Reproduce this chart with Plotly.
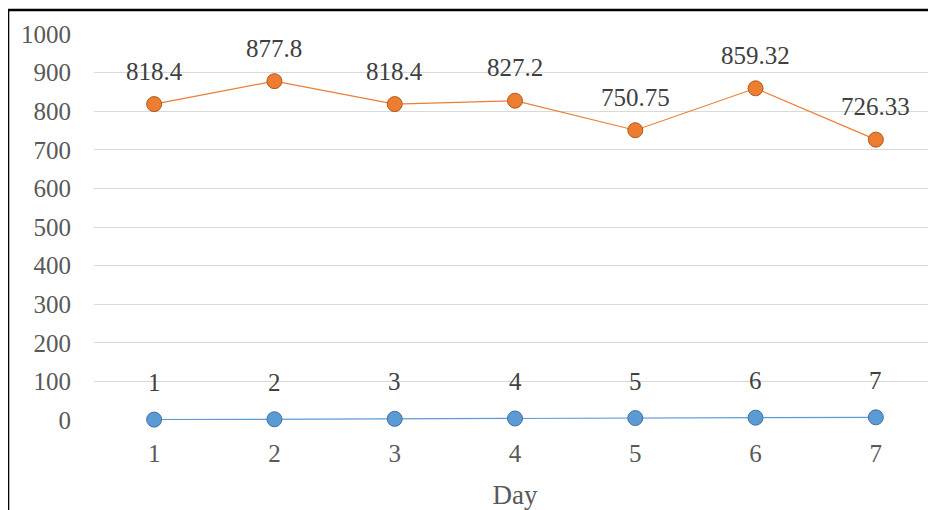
import plotly.graph_objects as go

days = [1, 2, 3, 4, 5, 6, 7]
orange_vals = [818.4, 877.8, 818.4, 827.2, 750.75, 859.32, 726.33]
blue_vals = [1, 2, 3, 4, 5, 6, 7]
y_ticks = [0, 100, 200, 300, 400, 500, 600, 700, 800, 900, 1000]

FONT = "Liberation Serif"
fig = go.Figure()
fig.add_trace(go.Scatter(x=days, y=blue_vals, mode="lines+markers",
                         line=dict(color="#5B9BD5", width=1.2),
                         marker=dict(size=15, color="#5B9BD5", line=dict(color="#41719C", width=1)),
                         showlegend=False, cliponaxis=False))
fig.add_trace(go.Scatter(x=days, y=orange_vals, mode="lines+markers",
                         line=dict(color="#ED7D31", width=1.2),
                         marker=dict(size=15, color="#ED7D31", line=dict(color="#AE5A21", width=1)),
                         showlegend=False, cliponaxis=False))

for d, v in zip(days, orange_vals):
    fig.add_annotation(x=d, y=v, text=f"{v:g}", showarrow=False, yshift=33,
                       font=dict(family=FONT, size=25, color="#404040"))
for d, v in zip(days, blue_vals):
    fig.add_annotation(x=d, y=v, text=f"{v:g}", showarrow=False, yshift=37,
                       font=dict(family=FONT, size=25, color="#404040"))

# outer border (left and top)
fig.add_shape(type="line", xref="paper", yref="paper", x0=-0.1021, x1=-0.1021, y0=-0.3, y1=1.062,
              line=dict(color="black", width=2.5))
fig.add_shape(type="line", xref="paper", yref="paper", x0=-0.1021, x1=1.01, y0=1.062, y1=1.062,
              line=dict(color="black", width=2.5))

fig.update_layout(
    width=928, height=502,
    margin=dict(l=86, r=0, t=26, b=90),
    paper_bgcolor="white", plot_bgcolor="white",
    font=dict(family=FONT, color="#595959"),
    xaxis=dict(range=[0.5, 7.5], tickvals=days, ticktext=[str(d) for d in days],
               showgrid=False, zeroline=False, showline=False,
               ticks="outside", ticklen=11, tickcolor="rgba(0,0,0,0)",
               tickfont=dict(family=FONT, size=25, color="#595959"),
               title=dict(text="Day", font=dict(family=FONT, size=27, color="#595959"), standoff=20)),
    yaxis=dict(range=[0, 1000], tickvals=y_ticks, showgrid=True, gridcolor="#D9D9D9", gridwidth=1,
               zeroline=False, showline=False,
               ticks="outside", ticklen=17, tickcolor="rgba(0,0,0,0)",
               tickfont=dict(family=FONT, size=25, color="#595959")),
)
fig.write_html("out.html")
